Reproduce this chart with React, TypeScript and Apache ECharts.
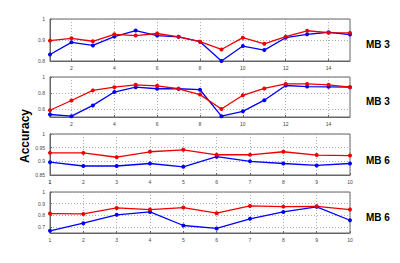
import React, { useEffect, useRef } from "react";
import * as echarts from "echarts";

const xCats15 = ["1","2","3","4","5","6","7","8","9","10","11","12","13","14","15"];
const xCats10 = ["1","2","3","4","5","6","7","8","9","10"];

const p1Blue = [0.831,0.889,0.874,0.916,0.945,0.921,0.915,0.892,0.800,0.871,0.852,0.911,0.927,0.937,0.926];
const p1Red  = [0.897,0.908,0.894,0.927,0.921,0.931,0.915,0.892,0.855,0.911,0.882,0.916,0.944,0.935,0.934];
const p2Blue = [0.531,0.510,0.645,0.812,0.873,0.853,0.853,0.841,0.510,0.571,0.710,0.894,0.880,0.877,0.873];
const p2Red  = [0.584,0.706,0.833,0.873,0.902,0.890,0.853,0.780,0.600,0.771,0.857,0.914,0.914,0.902,0.873];
const p3Red  = [0.931,0.931,0.915,0.935,0.942,0.924,0.924,0.935,0.923,0.921];
const p3Blue = [0.897,0.883,0.883,0.892,0.880,0.917,0.900,0.892,0.885,0.892];
const p4Red  = [0.816,0.813,0.864,0.850,0.867,0.819,0.881,0.875,0.878,0.850];
const p4Blue = [0.669,0.734,0.805,0.830,0.714,0.689,0.771,0.830,0.873,0.759];

const panelLabels = ["MB 3", "MB 3", "MB 6", "MB 6"];
const yLabelText = "Accuracy";
const yTicks1 = [0.8, 0.9, 1];
const yTicks2 = [0.6, 0.8, 1];
const yTicks3 = [0.85, 0.9, 0.95, 1];
const yTicks4 = [0.7, 0.8, 0.9, 1];
const yRanges = [[0.8, 1], [0.5, 1], [0.85, 1], [0.65, 1]];

export default function App() {
  const ref = useRef<HTMLDivElement>(null);
  useEffect(() => {
    if (!ref.current) return;
    const chart = echarts.init(ref.current, null, { renderer: "svg" });
    const gridBoxes = [
      { top: 19, height: 42 },
      { top: 77, height: 40 },
      { top: 134, height: 41 },
      { top: 192, height: 41 },
    ];
    const grids: any[] = gridBoxes.map((g) => ({ left: 50, width: 300, top: g.top, height: g.height, show: true, borderColor: "#666", borderWidth: 1, backgroundColor: "transparent" }));
    // overlay grid on panel 3, only to carry its first x label
    grids.push({ left: 50, width: 300, top: gridBoxes[2].top, height: gridBoxes[2].height, show: false });

    const cats = [xCats15, xCats15, xCats10, xCats10];
    const yTicks = [yTicks1, yTicks2, yTicks3, yTicks4];
    const dotted = { show: true, lineStyle: { color: "#999", type: [1, 2] as any, width: 0.8 } };
    const labelBase = { hideOverlap: false, fontSize: 5, color: "#444", margin: 4, fontFamily: "Liberation Sans" };
    const xAxis: any[] = cats.map((c, i) => {
      const sel = (idx: number) => (i < 2 ? idx % 2 === 1 : true);
      const label: any = { ...labelBase, interval: (idx: number) => sel(idx) };
      if (i >= 2) {
        label.showMinLabel = true;
        label.showMaxLabel = true;
      }
      return {
        type: "category",
        gridIndex: i,
        data: c,
        boundaryGap: false,
        axisLine: { show: true, lineStyle: { color: "#666", width: 1 } },
        axisTick: { show: true, inside: true, length: 2, interval: (idx: number) => sel(idx), lineStyle: { color: "#666" } },
        axisLabel: label,
        splitLine: { ...dotted, interval: (idx: number) => sel(idx) },
      };
    });
    xAxis.push({
      type: "category",
      gridIndex: 4,
      data: xCats10,
      boundaryGap: false,
      axisLine: { show: false },
      axisTick: { show: false },
      splitLine: { show: false },
      axisLabel: { ...labelBase, showMinLabel: true, interval: (idx: number) => idx === 0 },
    });
    const yAxis: any[] = yTicks.map((t, i) => ({
      type: "value",
      gridIndex: i,
      min: yRanges[i][0],
      max: yRanges[i][1],
      axisLine: { show: true, lineStyle: { color: "#666", width: 1 } },
      axisTick: { show: true, inside: true, length: 2, customValues: t, lineStyle: { color: "#666" } },
      axisLabel: { ...labelBase, customValues: t, margin: 5, formatter: (v: number) => String(+v.toFixed(2)) },
      splitLine: dotted,
    }));
    yAxis.push({ type: "value", gridIndex: 4, show: false, min: yRanges[2][0], max: yRanges[2][1] });
    const mk = (data: number[], color: string, i: number) => ({
      type: "line",
      xAxisIndex: i,
      yAxisIndex: i,
      data,
      symbol: "circle",
      symbolSize: 4,
      lineStyle: { color, width: 1.3 },
      itemStyle: { color },
    });
    const series = [
      mk(p1Blue, "#0000ff", 0), mk(p1Red, "#ee0000", 0),
      mk(p2Blue, "#0000ff", 1), mk(p2Red, "#ee0000", 1),
      mk(p3Blue, "#0000ff", 2), mk(p3Red, "#ee0000", 2),
      mk(p4Blue, "#0000ff", 3), mk(p4Red, "#ee0000", 3),
    ];
    const labelPos = [
      { x: 366, y: 44 },
      { x: 366, y: 101 },
      { x: 366, y: 160 },
      { x: 366, y: 217 },
    ];
    const graphic: any[] = panelLabels.map((t, i) => ({
      type: "text",
      x: labelPos[i].x,
      y: labelPos[i].y,
      style: { text: t, fill: "#000", font: "bold 10px 'Liberation Sans', Arial, sans-serif", verticalAlign: "middle" },
    }));
    graphic.push({
      type: "text",
      x: 25,
      y: 136,
      rotation: Math.PI / 2,
      style: { text: yLabelText, fill: "#000", font: "bold 12px 'Liberation Sans', Arial, sans-serif", align: "center", verticalAlign: "middle" },
    });
    chart.setOption({
      animation: false,
      backgroundColor: "#fff",
      grid: grids,
      xAxis,
      yAxis,
      series,
      graphic,
    } as any);
    return () => chart.dispose();
  }, []);
  return <div ref={ref} style={{ position: "fixed", left: 0, top: 0, width: 400, height: 263 }} />;
}
